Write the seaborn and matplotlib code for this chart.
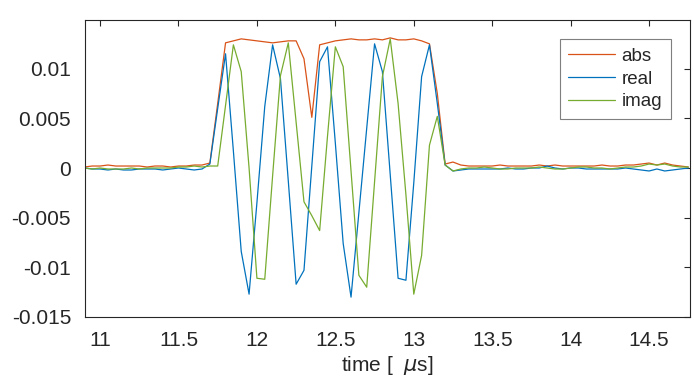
import numpy as np
import pandas as pd
import matplotlib
matplotlib.use("Agg")
import matplotlib.pyplot as plt
import seaborn as sns

# sample times in microseconds (0.05 us step)
time_us = [round(10.90 + 0.05 * k, 2) for k in range(78)]

abs_vals = [
    0.0001, 0.0002, 0.0002, 0.0003, 0.0002, 0.0002, 0.0002, 0.0002, 0.0001, 0.0002,
    0.0002, 0.0001, 0.0002, 0.0002, 0.0003, 0.0003, 0.0005, 0.0065, 0.0126, 0.0128,
    0.0130, 0.0129, 0.0128, 0.0127, 0.0126, 0.0127, 0.0128, 0.0128, 0.0110, 0.0051,
    0.0124, 0.0126, 0.0128, 0.0129, 0.0130, 0.0129, 0.0129, 0.0130, 0.0129, 0.0131,
    0.0129, 0.0129, 0.0130, 0.0128, 0.0125, 0.0075, 0.0004, 0.0006,
    0.0003, 0.0002, 0.0002, 0.0002, 0.0002, 0.0003, 0.0002, 0.0002, 0.0002, 0.0002,
    0.0003, 0.0002, 0.0003, 0.0002, 0.0002, 0.0002, 0.0002, 0.0002, 0.0003, 0.0002,
    0.0002, 0.0003, 0.0003, 0.0004, 0.0005, 0.0003, 0.0005, 0.0003, 0.0002, 0.0001,
]

real_vals = [
    0.0000, -0.0001, -0.0001, -0.0002, -0.0001, -0.0002, -0.0002, -0.0001, -0.0001, -0.0001,
    -0.0002, -0.0001, 0.0000, -0.0001, -0.0002, -0.0001, 0.0004, 0.0060, 0.0115, 0.0017,
    -0.0084, -0.0127, -0.0035, 0.0062, 0.0124, 0.0090, -0.0013, -0.0117, -0.0103, 0.0002,
    0.0107, 0.0122, 0.0025, -0.0076, -0.0130, -0.0045, 0.0040, 0.0125, 0.0097, -0.0007,
    -0.0111, -0.0113, -0.0015, 0.0092, 0.0124, 0.0065, 0.0003, -0.0003,
    -0.0002, -0.0001, -0.0001, -0.0001, -0.0001, -0.0001, 0.0000, -0.0001, -0.0001, 0.0000,
    0.0000, 0.0002, 0.0000, -0.0001, 0.0000, 0.0000, -0.0001, -0.0001, -0.0001, -0.0001,
    -0.0001, 0.0000, -0.0001, -0.0002, -0.0003, -0.0001, -0.0003, -0.0002, -0.0001, 0.0000,
]

imag_vals = [
    0.0000, -0.0001, 0.0000, -0.0001, -0.0001, -0.0001, 0.0000, -0.0001, 0.0000, 0.0000,
    0.0000, 0.0000, 0.0001, 0.0001, 0.0002, 0.0001, 0.0002, 0.0002, 0.0063, 0.0124,
    0.0097, 0.0000, -0.0111, -0.0112, -0.0008, 0.0093, 0.0126, 0.0046, -0.0034, -0.0048,
    -0.0063, 0.0032, 0.0122, 0.0102, -0.0003, -0.0108, -0.0120, -0.0014, 0.0092, 0.0130,
    0.0065, -0.0027, -0.0127, -0.0088, 0.0023, 0.0052, 0.0003, -0.0003,
    -0.0001, 0.0000, 0.0000, 0.0001, 0.0000, -0.0001, -0.0001, 0.0000, 0.0000, 0.0000,
    0.0001, 0.0000, -0.0001, -0.0001, 0.0000, 0.0001, 0.0001, 0.0000, 0.0000, -0.0001,
    0.0000, 0.0001, 0.0001, 0.0002, 0.0004, 0.0003, 0.0004, 0.0002, 0.0001, 0.0001,
]

series_names = ["abs", "real", "imag"]
colors = ["#D95319", "#0072BD", "#77AC30"]
xticks = [11, 11.5, 12, 12.5, 13, 13.5, 14, 14.5]
yticks = [-0.015, -0.01, -0.005, 0, 0.005, 0.01]
ytick_labels = ["-0.015", "-0.01", "-0.005", "0", "0.005", "0.01"]

df = pd.DataFrame({
    "time": time_us * 3,
    "value": abs_vals + real_vals + imag_vals,
    "signal": ["abs"] * len(time_us) + ["real"] * len(time_us) + ["imag"] * len(time_us),
})

sns.set_style("white")
plt.rcParams["font.family"] = ["Liberation Sans", "DejaVu Sans"]

fig = plt.figure(figsize=(6.94, 3.86), dpi=100)
ax = fig.add_axes([85 / 694, 1 - 317 / 386, 605 / 694, 297 / 386])

sns.lineplot(data=df, x="time", y="value", hue="signal", hue_order=series_names,
             palette=colors, linewidth=0.9, ax=ax, legend=False)

ax.set_xlim(10.904, 14.761)
ax.set_ylim(-0.015, 0.0149)
ax.set_xticks(xticks)
ax.set_xticklabels([f"{t:g}" for t in xticks])
ax.set_yticks(yticks)
ax.set_yticklabels(ytick_labels)
ax.tick_params(direction="in", length=4, width=0.8, top=True, right=True,
               labelsize=15, colors="#262626", pad=10)
for s in ax.spines.values():
    s.set_color("#262626")
    s.set_linewidth(0.8)

ax.set_xlabel("time [  $\\mu$s]", fontsize=15, color="#262626", labelpad=3)
ax.set_ylabel("")

handles = [plt.Line2D([], [], color=c, linewidth=0.9) for c in colors]
leg = ax.legend(handles, series_names, loc="upper right", bbox_to_anchor=(0.968, 0.935),
                borderaxespad=0, fancybox=False, framealpha=1, fontsize=13.5,
                handlelength=2.5, handletextpad=0.35, labelspacing=0.3, borderpad=0.45)
leg.get_frame().set_edgecolor("#7f7f7f")
leg.get_frame().set_linewidth(0.8)

fig.savefig("out.png", dpi=100)
